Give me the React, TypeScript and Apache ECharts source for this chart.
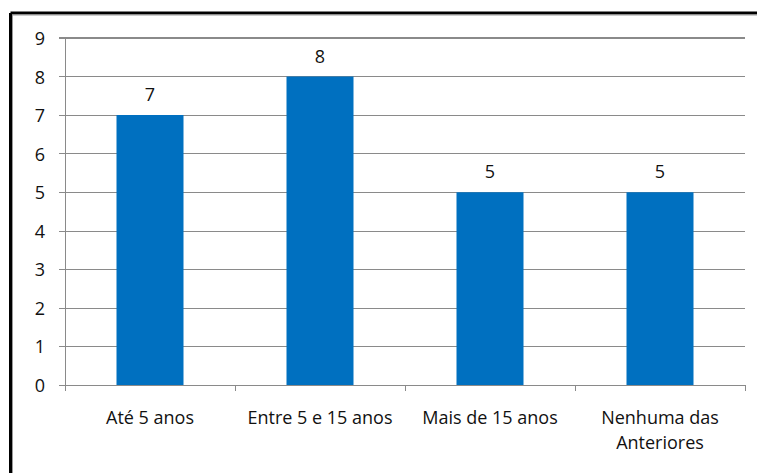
import React, { useEffect, useRef } from "react";
import * as echarts from "echarts";

// Response categories and counts
const categories: string[] = ["Até 5 anos", "Entre 5 e 15 anos", "Mais de 15 anos", "Nenhuma das\nAnteriores"];
const counts: number[] = [7, 8, 5, 5];

// Value axis range
const yMin = 0;
const yMax = 9;
const yStep = 1;

const FONT = "'Open Sans', 'Noto Sans', sans-serif";
const GRID_GRAY = "#8a8a8a";
const BAR_BLUE = "#0070C0";

export default function App() {
  const ref = useRef<HTMLDivElement>(null);

  useEffect(() => {
    if (!ref.current) return;
    const chart = echarts.init(ref.current, undefined, { renderer: "svg" });
    chart.setOption({
      animation: false,
      backgroundColor: "#ffffff",
      grid: { left: 65, right: 12, top: 38, bottom: 88 },
      xAxis: {
        type: "category",
        data: categories,
        axisLine: { show: true, lineStyle: { color: GRID_GRAY, width: 1 } },
        axisTick: { show: true, length: 6, lineStyle: { color: GRID_GRAY } },
        axisLabel: {
          color: "#111",
          fontFamily: FONT,
          fontSize: 18,
          margin: 19,
          lineHeight: 25,
          interval: 0,
        },
      },
      yAxis: {
        type: "value",
        min: yMin,
        max: yMax,
        interval: yStep,
        axisLine: { show: true, lineStyle: { color: GRID_GRAY, width: 1 } },
        axisTick: { show: true, length: 6, lineStyle: { color: GRID_GRAY } },
        axisLabel: { color: "#111", fontFamily: FONT, fontSize: 18, margin: 20 },
        splitLine: { show: true, lineStyle: { color: GRID_GRAY, width: 1 } },
      },
      series: [
        {
          type: "bar",
          data: counts,
          barWidth: 67,
          itemStyle: { color: BAR_BLUE },
          label: {
            show: true,
            position: "top",
            distance: 12,
            color: "#111",
            fontFamily: FONT,
            fontSize: 18,
          },
        },
      ],
      graphic: [
        // outer frame: heavy black rule on top and left, thin gray rule inside
        { type: "line", shape: { x1: 10.5, y1: 13, x2: 757, y2: 13 }, style: { stroke: "#000", lineWidth: 3 } },
        { type: "line", shape: { x1: 10.5, y1: 13, x2: 10.5, y2: 473 }, style: { stroke: "#000", lineWidth: 3 } },
        { type: "line", shape: { x1: 12.5, y1: 15, x2: 757, y2: 15 }, style: { stroke: "#9a9a9a", lineWidth: 1 } },
        { type: "line", shape: { x1: 12.5, y1: 15, x2: 12.5, y2: 473 }, style: { stroke: "#9a9a9a", lineWidth: 1 } },
        // slightly heavier top gridline
        { type: "line", shape: { x1: 59, y1: 38, x2: 745, y2: 38 }, style: { stroke: GRID_GRAY, lineWidth: 2 } },
      ],
    });
    return () => chart.dispose();
  }, []);

  return (
    <div
      ref={ref}
      style={{ position: "absolute", left: 0, top: 0, width: 757, height: 473 }}
    />
  );
}
